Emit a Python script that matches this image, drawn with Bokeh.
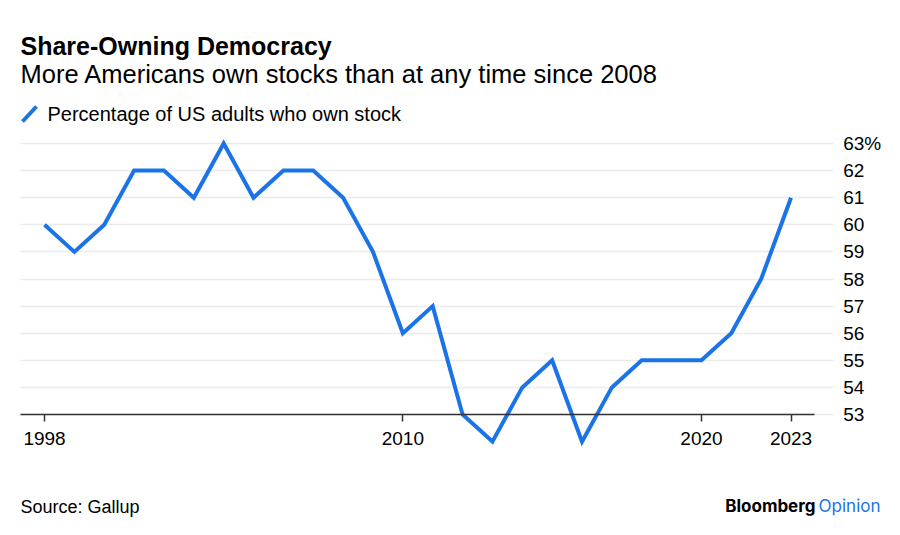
from bokeh.plotting import figure
from bokeh.models import Range1d, FixedTicker, Label, PolyAnnotation
from bokeh.embed import file_html
from bokeh.resources import INLINE

years = list(range(1998, 2024))
pct = [60, 59, 60, 62, 62, 61, 63, 61, 62, 62, 61, 59, 56, 57, 53, 52,
       54, 55, 52, 54, 55, 55, 55, 56, 58, 61]
x_ticks = [1998, 2010, 2020, 2023]
y_ticks = [53, 54, 55, 56, 57, 58, 59, 60, 61, 62, 63]
y_labels = {53: "53", 54: "54", 55: "55", 56: "56", 57: "57", 58: "58",
            59: "59", 60: "60", 61: "61", 62: "62", 63: "63%"}

title = "Share-Owning Democracy"
subtitle = "More Americans own stocks than at any time since 2008"
legend_text = "Percentage of US adults who own stock"
source = "Source: Gallup"

BLUE = "#1a73e8"
FONT = "Liberation Sans"

# frame covers the whole canvas; axes are pinned inside it
X0, X1 = 1996.526, 2026.666
Y0, Y1 = 48.535, 68.277
p = figure(width=900, height=535, output_backend="svg", toolbar_location=None,
           x_range=Range1d(X0, X1), y_range=Range1d(Y0, Y1),
           y_axis_location="right",
           min_border_left=0, min_border_right=0,
           min_border_top=0, min_border_bottom=0)
p.outline_line_color = None
p.background_fill_color = "white"
p.border_fill_color = "white"

p.line(years, pct, line_color=BLUE, line_width=4, line_join="miter")

# grid
p.xgrid.visible = False
p.ygrid.ticker = FixedTicker(ticks=y_ticks)
p.ygrid.grid_line_color = "#ebebeb"
p.ygrid.grid_line_width = 1.5
p.ygrid.cross_bounds = (1997.2, 2024.41)

# y axis (right, pinned)
p.yaxis.ticker = FixedTicker(ticks=y_ticks)
p.yaxis.fixed_location = 2024.41
p.yaxis.major_label_overrides = y_labels
p.yaxis.axis_line_color = None
p.yaxis.major_tick_line_color = None
p.yaxis.minor_tick_line_color = None
p.yaxis.major_label_standoff = 4
p.yaxis.major_label_text_font = FONT
p.yaxis.major_label_text_font_size = "19px"
p.yaxis.major_label_text_color = "#000000"

# x axis pinned at 53
p.xaxis.ticker = FixedTicker(ticks=x_ticks)
p.xaxis.fixed_location = 53
p.xaxis.bounds = (1997.2, 2023.78)
p.xaxis.axis_line_color = "#333333"
p.xaxis.axis_line_width = 1.5
p.xaxis.major_tick_line_color = "#333333"
p.xaxis.major_tick_line_width = 1.5
p.xaxis.major_tick_in = 0
p.xaxis.major_tick_out = 7
p.xaxis.minor_tick_line_color = None
p.xaxis.major_label_standoff = 10
p.xaxis.major_label_text_font = FONT
p.xaxis.major_label_text_font_size = "19px"
p.xaxis.major_label_text_color = "#000000"

# texts (screen units from canvas bottom-left)
p.add_layout(Label(x=20, y=490, x_units="screen", y_units="screen", text=title,
                   text_font=FONT, text_font_size="25px", text_font_style="bold",
                   text_color="#000000", text_baseline="alphabetic"))
p.add_layout(Label(x=20, y=462, x_units="screen", y_units="screen", text=subtitle,
                   text_font=FONT, text_font_size="25.5px",
                   text_color="#000000", text_baseline="alphabetic"))
p.add_layout(Label(x=47, y=422, x_units="screen", y_units="screen", text=legend_text,
                   text_font=FONT, text_font_size="20px",
                   text_color="#000000", text_baseline="alphabetic"))
p.add_layout(PolyAnnotation(xs=[22, 36], ys=[414, 429], xs_units="screen", ys_units="screen",
                            line_color=BLUE, line_width=4, line_alpha=1.0, fill_alpha=0))
p.add_layout(Label(x=20, y=29, x_units="screen", y_units="screen", text=source,
                   text_font=FONT, text_font_size="18px",
                   text_color="#000000", text_baseline="alphabetic"))
p.add_layout(Label(x=880, y=30, x_units="screen", y_units="screen", text="Opinion",
                   text_font="Inter", text_font_size="17px", text_align="right",
                   text_color=BLUE, text_baseline="alphabetic"))
p.add_layout(Label(x=815, y=30, x_units="screen", y_units="screen", text="Bloomberg",
                   text_font="Inter", text_font_size="17px", text_font_style="bold",
                   text_align="right", text_color="#000000", text_baseline="alphabetic"))

open("out.html", "w").write(file_html(p, INLINE))
